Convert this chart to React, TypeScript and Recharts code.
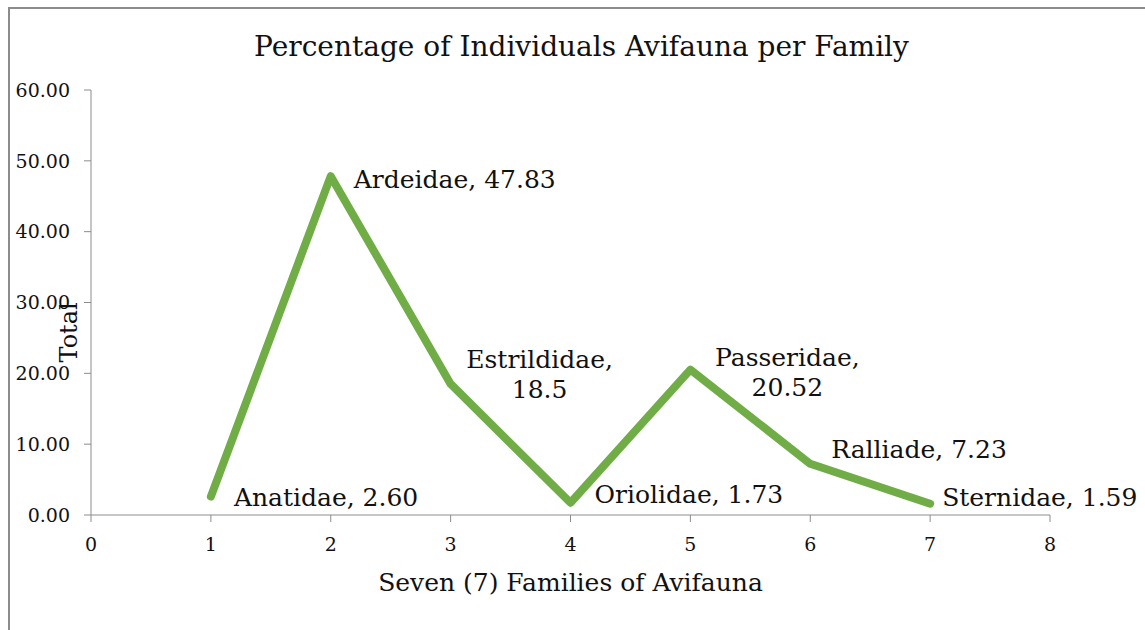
import { LineChart, Line, XAxis, YAxis, LabelList } from "recharts";

const families = [
  "Anatidae",
  "Ardeidae",
  "Estrildidae",
  "Oriolidae",
  "Passeridae",
  "Ralliade",
  "Sternidae",
];
const familyNo = [1, 2, 3, 4, 5, 6, 7];
const percent = [2.6, 47.83, 18.5, 1.73, 20.52, 7.23, 1.59];
const percentText = ["2.60", "47.83", "18.5", "1.73", "20.52", "7.23", "1.59"];
const xTicks = [0, 1, 2, 3, 4, 5, 6, 7, 8];
const yTicks = [0, 10, 20, 30, 40, 50, 60];

const FONT = "'DejaVu Serif', 'Liberation Serif', serif";
const GREEN = "#70ad47";
const AXIS = "#8c8c8c";

const data = families.map((f, i) => ({
  x: familyNo[i],
  y: percent[i],
  name: f,
  text: percentText[i],
}));

// where each data label sits relative to its point (wrap = two lines, centred)
const labelPlace = [
  { dx: 23, dy: 1, wrap: false },
  { dx: 23, dy: 3, wrap: false },
  { dx: 89, dy: -25, wrap: true },
  { dx: 24, dy: -8, wrap: false },
  { dx: 97, dy: -13, wrap: true },
  { dx: 21, dy: -14, wrap: false },
  { dx: 12, dy: -6, wrap: false },
];

function PointLabel(props: any) {
  const { x, y, index } = props;
  const d = data[index];
  const p = labelPlace[index];
  if (p.wrap) {
    return (
      <text
        x={x + p.dx}
        y={y + p.dy}
        textAnchor="middle"
        dominantBaseline="central"
        fontFamily={FONT}
        fontSize={25}
        fill="#111"
      >
        <tspan x={x + p.dx}>{d.name},</tspan>
        <tspan x={x + p.dx} dy={30}>
          {d.text}
        </tspan>
      </text>
    );
  }
  return (
    <text
      x={x + p.dx}
      y={y + p.dy}
      textAnchor="start"
      dominantBaseline="central"
      fontFamily={FONT}
      fontSize={25}
      fill="#111"
    >
      {d.name}, {d.text}
    </text>
  );
}

export default function App() {
  return (
    <div
      style={{
        position: "absolute",
        left: 8,
        top: 7,
        width: 1137,
        height: 623,
        borderTop: `2px solid ${AXIS}`,
        borderLeft: `2px solid ${AXIS}`,
        background: "#fff",
        boxSizing: "border-box",
      }}
    >
      <div
        style={{
          position: "absolute",
          left: 0,
          width: 1143,
          top: 21,
          textAlign: "center",
          fontFamily: FONT,
          fontSize: 28,
          color: "#111",
        }}
      >
        Percentage of Individuals Avifauna per Family
      </div>
      <div style={{ position: "absolute", left: -2, top: -1 }}>
        <LineChart
          width={1137}
          height={623}
          data={data}
          margin={{ top: 82, right: 95, bottom: 36, left: 0 }}
        >
          <XAxis
            type="number"
            dataKey="x"
            domain={[0, 8]}
            ticks={xTicks}
            interval={0}
            height={80}
            tickSize={7}
            tickMargin={16}
            stroke={AXIS}
            tick={{ fill: "#111", fontFamily: FONT, fontSize: 19 }}
            label={{
              value: "Seven (7) Families of Avifauna",
              position: "insideBottom",
              offset: 4,
              fill: "#111",
              fontFamily: FONT,
              fontSize: 25,
            }}
          />
          <YAxis
            type="number"
            domain={[0, 60]}
            ticks={yTicks}
            interval={0}
            width={83}
            tickSize={7}
            tickMargin={14}
            stroke={AXIS}
            tickFormatter={(v: number) => v.toFixed(2)}
            tick={{ fill: "#111", fontFamily: FONT, fontSize: 19 }}
            label={{
              value: "Total",
              angle: -90,
              position: "insideLeft",
              offset: 60,
              dy: 60,
              fill: "#111",
              fontFamily: FONT,
              fontSize: 24,
            }}
          />
          <Line
            type="linear"
            dataKey="y"
            stroke={GREEN}
            strokeWidth={8}
            strokeLinecap="round"
            strokeLinejoin="round"
            dot={false}
            isAnimationActive={false}
          >
            <LabelList dataKey="y" content={PointLabel} />
          </Line>
        </LineChart>
      </div>
    </div>
  );
}
